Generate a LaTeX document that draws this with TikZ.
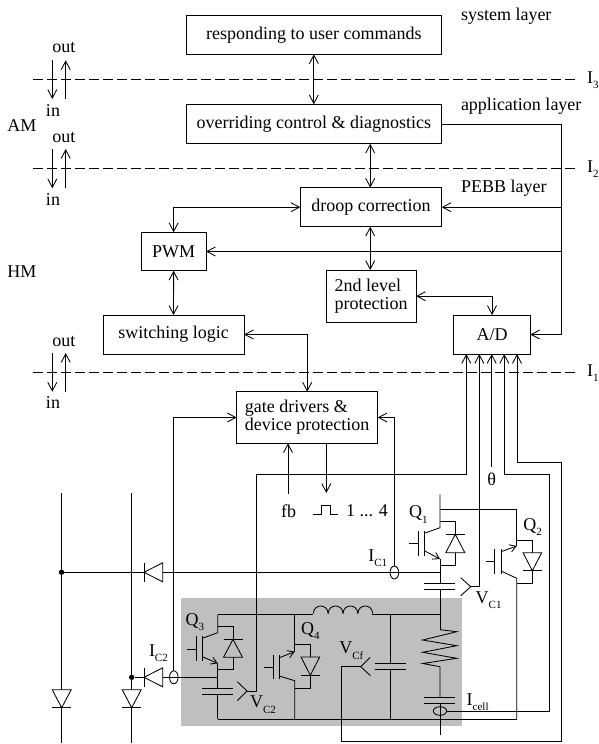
\documentclass[tikz,border=0pt]{standalone}
\usepackage{fontspec}
\setmainfont{Liberation Serif}
\usetikzlibrary{arrows.meta}
\newcommand{\subt}[1]{\raisebox{-0.32em}{\fontsize{11}{11}\selectfont #1}}
\tikzset{
  wire/.style={line width=0.85pt,black},
  sig/.style={wire,>={Straight Barb[length=8.5pt,width=9pt,line width=0.85pt]}},
  emit/.style={wire,-{Straight Barb[length=6pt,width=7.5pt,line width=0.85pt]}},
  limit/.style={line width=0.85pt,dash pattern=on 10.3pt off 3.7pt},
  blk/.style={draw=black,line width=0.85pt,inner sep=0pt,outer sep=0pt,align=left,font=\fontsize{18}{18.3}\selectfont},
  lbl/.style={inner sep=0pt,outer sep=0pt,anchor=base west,font=\fontsize{18}{18.3}\selectfont},
  lblc/.style={inner sep=0pt,outer sep=0pt,anchor=base,font=\fontsize{18}{18.3}\selectfont},
  jdot/.style={circle,fill=black,inner sep=0pt,minimum size=5.4pt}
}
\begin{document}
\begin{tikzpicture}[x=1pt,y=-1pt]
\useasboundingbox (0,0) rectangle (598,744);
% shaded region
\fill[black!25] (180.7,598) rectangle (462,726);
% interface lines
\coordinate (i3a) at (33,79.5); \coordinate (i3b) at (577,79.5);
\coordinate (i2a) at (33,168.5); \coordinate (i2b) at (577,168.5);
\coordinate (i1a) at (33,372.5); \coordinate (i1b) at (577,372.5);
\draw[limit] (i3a) -- (i3b);
\draw[limit] (i2a) -- (i2b);
\draw[limit] (i1a) -- (i1b);
% blocks
\node[blk,minimum width=255.7pt,minimum height=38.6pt] (resp) at (313.85,35) {responding to user commands};
\node[blk,minimum width=255.7pt,minimum height=39.4pt] (over) at (313.85,124) {overriding control \& diagnostics};
\node[blk,minimum width=141.4pt,minimum height=39pt] (droop) at (371,207.2) {droop correction};
\node[blk,minimum width=64.7pt,minimum height=38.4pt] (pwm) at (173.65,251.5) {PWM};
\node[blk,minimum width=89.7pt,minimum height=52.3pt] (lvl) at (371.2,296.2) {2nd level\\protection};
\node[blk,minimum width=141pt,minimum height=39pt] (sw) at (173.5,334.5) {switching logic};
\node[blk,minimum width=76.6pt,minimum height=39pt] (ad) at (492,334.5) {A/D};
\node[blk,minimum width=141pt,minimum height=51.6pt] (gate) at (307.2,417.5) {gate drivers \&\\device protection};
% text labels
\node[lbl] (t1) at (461,20) {system layer};
\node[lbl] (t2) at (461,110) {application layer};
\node[lbl] (t3) at (461,192) {PEBB layer};
\node[lbl] (am) at (7.3,131) {AM};
\node[lbl] (hm) at (7.3,277) {HM};
\node[lblc] (o3) at (63.8,52) {out};
\node[lblc] (o2) at (63.8,142) {out};
\node[lblc] (o1) at (63.8,346) {out};
\node[lblc] (in3) at (53,116) {in};
\node[lblc] (in2) at (53,205) {in};
\node[lblc] (in1) at (53,408.5) {in};
\node[lbl] (l3) at (587,83) {I\subt{3}};
\node[lbl] (l2) at (587,172) {I\subt{2}};
\node[lbl] (l1) at (587,376) {I\subt{1}};
\node[lblc] (theta) at (491.7,485) {θ};
\node[lblc] (fb) at (288.7,517) {fb};
\node[lbl] (pn) at (346,516) {1 ... 4};
\node[lbl] (q1) at (409,517.5) {Q\subt{1}};
\node[lbl] (q2) at (523.3,530) {Q\subt{2}};
\node[lbl] (q3) at (185.7,625) {Q\subt{3}};
\node[lbl] (q4) at (301,634) {Q\subt{4}};
\node[lbl] (ic1) at (368.3,561) {I\subt{C1}};
\node[lbl] (ic2) at (149,656) {I\subt{C2}};
\node[lbl] (vc1) at (475.7,603) {V\subt{C1}};
\node[lbl] (vc2) at (250,707.5) {V\subt{C2}};
\node[lbl] (vcf) at (339.3,653.5) {V\subt{Cf}};
\node[lbl] (icell) at (466.7,705) {I\subt{cell}};
% in/out arrows
\foreach \ya/\yb in {60.3/99,149/188.3,353/391.7}{
  \draw[sig,->] (52.3,\ya) -- (52.3,\yb);
  \draw[sig,->] (65.7,\yb) -- (65.7,\ya);
}
% block connectors
\coordinate (busA) at (561.7,124);
\coordinate (busB) at (561.7,207.2);
\coordinate (busC) at (561.7,251.5);
\coordinate (busD) at (561.7,334.5);
\coordinate (dt) at (370.2,187.7);
\coordinate (db) at (370.2,226.7);
\coordinate (ob) at (370.2,143.7);
\coordinate (lt) at (370.2,270);
\draw[sig,<->] (resp.south) -- (over.north);
\draw[sig,<->] (ob) -- (dt);
\draw[sig,<->] (db) -- (lt);
\draw[sig,->] (over.east) -- (busA) -- (busD) -- (ad.east);
\draw[sig,->] (busB) -- (droop.east);
\draw[sig,->] (busC) -- (pwm.east);
\draw[sig,<->] (droop.west) -| (pwm.north);
\draw[sig,<->] (pwm.south) -- (sw.north);
\draw[sig,<->] (lvl.east) -| (ad.north);
\draw[sig,<->] (sw.east) -| (gate.north);
% signals to the gate drivers
\coordinate (fbT) at (288,494);
\coordinate (gu) at (288,443.3);
\coordinate (gd) at (326.3,443.3);
\coordinate (pT) at (326.3,493);
\draw[sig,->] (fbT) -- (gu);
\draw[sig,->] (gd) -- (pT);
% pulse symbol
\coordinate (pa) at (313.3,514.7);\coordinate (pb) at (338.3,514.7);
\draw[wire] (pa) -- (321.7,514.7) -- (321.7,505.7) -- (330,505.7) -- (330,514.7) -- (pb);
% A/D inputs
\coordinate (a1) at (466.3,354);\coordinate (a2) at (479.3,354);\coordinate (a3) at (491.7,354);\coordinate (a4) at (504.3,354);\coordinate (a5) at (517,354);
\coordinate (tipC2) at (247,691);
\coordinate (tipC1) at (470.7,586.7);
\coordinate (tipCf) at (360.7,666.7);
\coordinate (ovalCell) at (446.7,711);
\draw[sig,<-] (a1) -- (466.3,474.3) -- (256.3,474.3) -- (256.3,691) -- (tipC2);
\draw[sig,<-] (a2) -- (479.3,586.7) -- (tipC1);
\draw[sig,<-] (a3) -- (491.7,467);
\draw[sig,<-] (a4) -- (504.3,474.3) -- (549.7,474.3) -- (549.7,711) -- (ovalCell);
\draw[sig,<-] (a5) -- (517,462) -- (561.7,462) -- (561.7,741.7) -- (341.7,741.7) -- (341.7,666.7) -- (tipCf);
% sense tips
\draw[wire] (237.3,681.7) -- (tipC2) -- (237.3,700.7);
\draw[wire] (460.7,577.7) -- (tipC1) -- (460.7,595.7);
\draw[wire] (370.3,657.3) -- (tipCf) -- (370.3,675.5);
% current sensors
\draw[wire] (173.8,677.3) ellipse [x radius=4.3,y radius=6.5];
\draw[wire] (394.4,572.5) ellipse [x radius=4.3,y radius=6.5];
\draw[wire] (440,711) ellipse [x radius=6.7,y radius=4.3];
\draw[sig,->] (173.8,670.8) -- (173.8,417.5) -- (gate.west);
\draw[sig,->] (394.4,566) -- (394.4,417.5) -- (gate.east);
% rails and series diodes
\node[jdot] (dot1) at (61.5,572.3) {};
\node[jdot] (dot2) at (131.7,677.3) {};
\draw[wire] (61.7,493.3) -- (61.7,689.7);
\draw[wire] (61.7,707.7) -- (61.7,742.7);
\draw[wire] (131.7,493.3) -- (131.7,689.7);
\draw[wire] (131.7,707.7) -- (131.7,742.7);
\draw[wire,line join=miter] (52.2,689.7) -- (71.2,689.7) -- (61.7,707.7) -- cycle;
\draw[wire] (52.2,707.7) -- (71.2,707.7);
\draw[wire,line join=miter] (122.2,689.7) -- (141.2,689.7) -- (131.7,707.7) -- cycle;
\draw[wire] (122.2,707.7) -- (141.2,707.7);
% feedback diodes
\draw[wire] (dot1) -- (144,572.3);
\draw[wire] (144,562.8) -- (144,581.8);
\draw[wire] (144,572.3) -- (162.7,562.8) -- (162.7,581.8) -- cycle;
\draw[wire] (162.7,572.3) -- (440,572.3);
\draw[wire] (dot2) -- (144,677.3);
\draw[wire] (144,667.8) -- (144,686.8);
\draw[wire] (144,677.3) -- (162.7,667.8) -- (162.7,686.8) -- cycle;
\draw[wire] (162.7,677.3) -- (217.7,677.3);
% Q3
\draw[wire] (217.7,614.7) -- (217.7,632.7) -- (202.3,638.3);
\draw[emit] (202.3,656.7) -- (217.7,663.3);
\draw[wire] (217.7,663.3) -- (217.7,688.3);
\draw[wire] (217.7,694.3) -- (217.7,719.3);
\draw[wire] (217.7,626.7) -- (233,626.7) -- (233,639.3);
\draw[wire] (223.5,639.3) -- (242.5,639.3);
\draw[wire] (233,639.3) -- (223.5,657.3) -- (242.5,657.3) -- cycle;
\draw[wire] (233,657.3) -- (233,669.3) -- (217.7,669.3);
\draw[wire] (186.7,649) -- (196.3,649);
\draw[wire] (196.3,636) -- (196.3,661);
\draw[wire] (202.3,636) -- (202.3,661);
\draw[wire] (202.3,688.3) -- (233.3,688.3);
\draw[wire] (202.3,694.3) -- (233.3,694.3);
% Q4
\draw[wire] (294.7,614.7) -- (294.7,651.7);
\draw[emit] (279.3,657.7) -- (294.7,651.7);
\draw[wire] (279.3,676) -- (294.7,680.7) -- (294.7,719.3);
\draw[wire] (294.7,644.3) -- (310.3,644.3) -- (310.3,657);
\draw[wire] (310.3,675.3) -- (301,657) -- (319.7,657) -- cycle;
\draw[wire] (301,675.3) -- (319.7,675.3);
\draw[wire] (310.3,675.3) -- (310.3,688.3) -- (294.7,688.3);
\draw[wire] (264.3,667) -- (273.7,667);
\draw[wire] (273.7,655) -- (273.7,679.3);
\draw[wire] (279.3,655) -- (279.3,679.3);
% top and bottom wires of the filter
\coordinate (la) at (313.3,614.7);\coordinate (lb) at (372.7,614.7);
\draw[wire] (217.7,614.7) -- (la);
\foreach \s in {0,1,2,3}{
  \draw[wire] ({313.3+14.85*\s},613.5) .. controls ({313.8+14.85*\s},603.5) and ({327.65+14.85*\s},603.5) .. ({328.15+14.85*\s},613.5);
}
\draw[wire] (372.7,613.5) -- (lb) -- (440,614.7);
\draw[wire] (217.7,719.3) -- (516.7,719.3);
% Cf
\draw[wire] (390.7,614.7) -- (390.7,663.3);
\draw[wire] (390.7,669) -- (390.7,719.3);
\draw[wire] (374.7,663.3) -- (406.3,663.3);
\draw[wire] (374.7,669) -- (406.3,669);
% Q1 leg
\draw[wire] (440,494.3) -- (440,527.7) -- (424.3,533.3);
\draw[emit] (424.3,550.7) -- (440,559);
\draw[wire] (440,559) -- (440,583);
\draw[wire] (440,589.3) -- (440,629.7);
\draw[wire] (440,509.3) -- (516.7,509.3) -- (516.7,546);
\draw[wire] (440,521.7) -- (455.3,521.7) -- (455.3,534.3);
\draw[wire] (445.8,534.3) -- (464.8,534.3);
\draw[wire] (455.3,534.3) -- (445.8,552.7) -- (464.8,552.7) -- cycle;
\draw[wire] (455.3,552.7) -- (455.3,565.3) -- (440,565.3);
\draw[wire] (409,543.7) -- (418.3,543.7);
\draw[wire] (418.3,531) -- (418.3,556);
\draw[wire] (424.3,531) -- (424.3,556);
\draw[wire] (424,583) -- (455.3,583);
\draw[wire] (424,589.3) -- (455.3,589.3);
% resistor and cell
\draw[wire] (440,629.7) -- (456.7,631.7) -- (422.7,640) -- (456.7,645.7) -- (422.7,652.3) -- (456.7,658.3) -- (422.7,663.5) -- (440,666.7) -- (440,697.3);
\draw[wire] (424,697.3) -- (455.3,697.3);
\draw[wire] (424,703.3) -- (455.3,703.3);
\draw[wire] (440,703.3) -- (440,734.7);
% Q2
\draw[emit] (501,551.7) -- (516.7,546);
\draw[wire] (501,571) -- (516.7,578.3) -- (516.7,719.3);
\draw[wire] (516.7,540) -- (532.3,540) -- (532.3,552.7);
\draw[wire] (532.3,570.7) -- (523,552.7) -- (541.7,552.7) -- cycle;
\draw[wire] (523,570.7) -- (541.7,570.7);
\draw[wire] (532.3,570.7) -- (532.3,583.7) -- (516.7,583.7);
\draw[wire] (486,561.3) -- (494.3,561.3);
\draw[wire] (494.3,549) -- (494.3,574.3);
\draw[wire] (501,549) -- (501,574.3);
\end{tikzpicture}
\end{document}
